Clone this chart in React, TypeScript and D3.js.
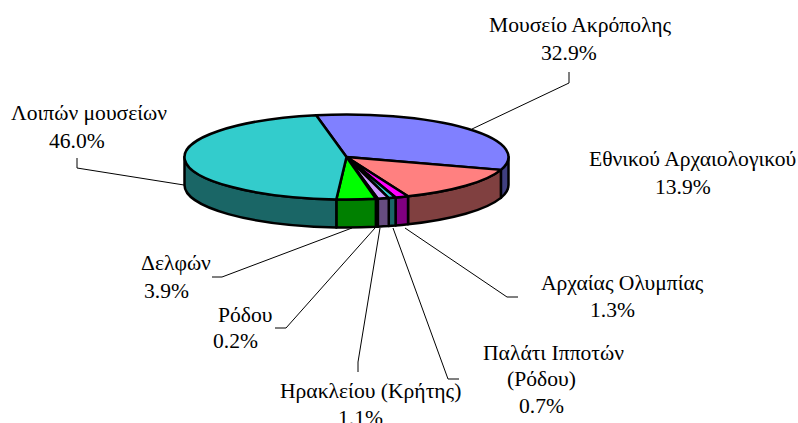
import React from 'react';
import * as d3 from 'd3';

const names = ['Μουσείο Ακρόπολης', 'Εθνικού Αρχαιολογικού', 'Αρχαίας Ολυμπίας', 'Παλάτι Ιπποτών', 'Ηρακλείου (Κρήτης)', 'Ρόδου', 'Δελφών', 'Λοιπών μουσείων'];
const values = [32.9, 13.9, 1.3, 0.7, 1.1, 0.2, 3.9, 46.0];
const topColors = ['#8080FF', '#FF8080', '#FF00FF', '#33CCCC', '#CC99FF', '#FFFFFF', '#00FF00', '#33CCCC'];
const sideColors = ['#404080', '#804040', '#800080', '#1A6666', '#664C80', '#808080', '#008000', '#1A6666'];
// label lines: anchor on the pie edge -> elbow -> short tick
const leaderLines = [
  [[472, 129], [569, 83], [569, 72]],
  [],
  [[405, 228], [507, 297], [518, 297]],
  [[393, 228], [448, 379], [459, 379]],
  [[380, 228], [358, 362], [358, 372]],
  [[375, 228], [286, 328], [275, 328]],
  [[352, 228], [222, 277], [212, 277]],
  [[184, 185], [77, 168], [77, 158]],
];
// text, left edge, baseline for every line of every label
const labels = [
  [['Μουσείο Ακρόπολης', 489, 32], ['32.9%', 541, 60]],
  [['Εθνικού Αρχαιολογικού', 589, 166], ['13.9%', 655, 194]],
  [['Αρχαίας Ολυμπίας', 541, 290], ['1.3%', 590, 317]],
  [['Παλάτι Ιπποτών', 483, 360], ['(Ρόδου)', 507, 386], ['0.7%', 519, 413]],
  [['Ηρακλείου (Κρήτης)', 280, 398], ['1.1%', 338, 425]],
  [['Ρόδου', 218, 322], ['0.2%', 213, 348]],
  [['Δελφών', 141, 270], ['3.9%', 144, 298]],
  [['Λοιπών μουσείων', 11, 120], ['46.0%', 49, 148]],
];

const cx = 346.5, cy = 157, rx = 162, ry = 42.5, depth = 28;
const startDeg = -10.8;

const pie = d3.pie<number>().sort(null).startAngle((startDeg * Math.PI) / 180).endAngle(((startDeg + 360) * Math.PI) / 180);
const px = (a: number) => cx + rx * Math.sin(a);
const py = (a: number) => cy - ry * Math.cos(a);

function wallPath(a0: number, a1: number) {
  // only the front half of the rim is visible
  const s = Math.max(a0, Math.PI / 2);
  const e = Math.min(a1, (3 * Math.PI) / 2);
  if (e <= s) return null;
  return `M${px(s)},${py(s)}A${rx},${ry} 0 0 1 ${px(e)},${py(e)}L${px(e)},${py(e) + depth}A${rx},${ry} 0 0 0 ${px(s)},${py(s) + depth}Z`;
}

export default function App() {
  const arcs = pie(values);
  const line = d3.line();
  return (
    <svg width={798} height={423} style={{ position: 'absolute', left: 0, top: 0 }} fontFamily="'Liberation Serif'" fontSize={21.6} fill="#000">
      <g stroke="#000" fill="none" strokeWidth={1}>
        {leaderLines.map((l, i) => l.length ? <path key={i} d={line(l as [number, number][]) as string} /> : null)}
      </g>
      <g stroke="#000" strokeWidth={2.5} strokeLinejoin="round">
        {arcs.map((a, i) => {
          const d = wallPath(a.startAngle, a.endAngle);
          if (d) return <path key={i} d={d} fill={sideColors[i]} />;
          return null;
        })}
        {arcs.map((a, i) => {
          const large = a.endAngle - a.startAngle > Math.PI ? 1 : 0;
          return <path key={i} fill={topColors[i]}
            d={`M${cx},${cy}L${px(a.startAngle)},${py(a.startAngle)}A${rx},${ry} 0 ${large} 1 ${px(a.endAngle)},${py(a.endAngle)}Z`} />;
        })}
      </g>
      {labels.map((l, i) => (
        <text key={names[i]}>
          {l.map((t, j) => <tspan key={j} x={t[1]} y={t[2]}>{t[0]}</tspan>)}
        </text>
      ))}
    </svg>
  );
}
